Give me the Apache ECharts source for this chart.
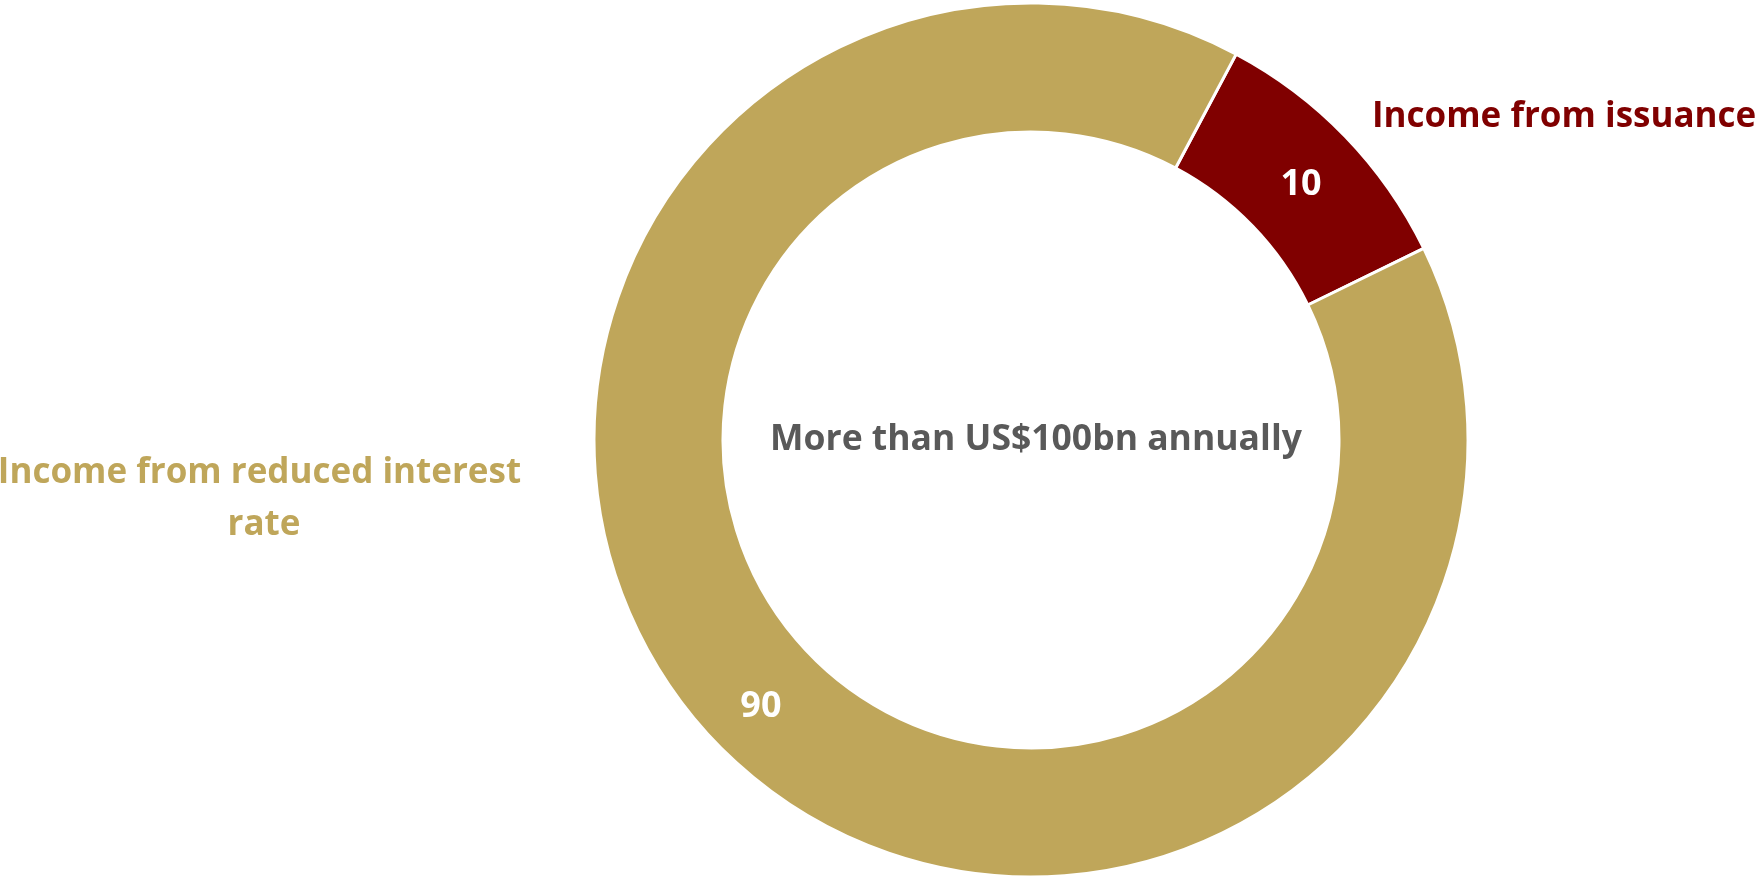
<!DOCTYPE html>
<html>
<head>
<meta charset="utf-8">
<script src="https://cdn.jsdelivr.net/npm/echarts@6/dist/echarts.min.js"></script>
<style>
html,body{margin:0;padding:0;background:#fff;}
#chart{width:1757px;height:880px;}
</style>
</head>
<body>
<div id="chart"></div>
<script>
const categories = ['Income from issuance', 'Income from reduced interest rate'];
const values = [10, 90];
const colors = ['#800000', '#BFA65A'];
const centerText = 'More than US$100bn annually';

const FONT = '"Open Sans", "Noto Sans", sans-serif';
const chart = echarts.init(document.getElementById('chart'));
const data = categories.map((c, i) => ({ name: c, value: values[i], itemStyle: { color: colors[i] } }));

// name label anchor positions (layout only)
const nameLabelPos = [
  { x: 1372, y: 117, align: 'left', verticalAlign: 'middle' },
  { x: 264, y: 499, align: 'center', verticalAlign: 'middle' }
];

chart.setOption({
  backgroundColor: '#ffffff',
  animation: false,
  title: {
    text: centerText,
    left: 1031, top: 435,
    textAlign: 'center', textVerticalAlign: 'middle',
    textStyle: { fontFamily: FONT, fontWeight: 'bold', fontSize: 35.5, color: '#595959' }
  },
  series: [
    {
      type: 'pie',
      center: [1031, 440],
      radius: [308, 437],
      startAngle: 62,
      clockwise: true,
      silent: true,
      itemStyle: { borderColor: '#ffffff', borderWidth: 3 },
      label: {
        show: true, position: 'inside',
        formatter: '{c}',
        offset: [0, 6],
        fontFamily: FONT, fontWeight: 'bold', fontSize: 36, color: '#ffffff'
      },
      labelLine: { show: false },
      data: data
    },
    {
      type: 'pie',
      center: [1031, 440],
      radius: [308, 437],
      startAngle: 62,
      clockwise: true,
      silent: true,
      itemStyle: { color: 'rgba(0,0,0,0)', borderWidth: 0 },
      label: {
        show: true, position: 'outside',
        formatter: '{b}',
        width: 560, overflow: 'break', lineHeight: 52,
        fontFamily: FONT, fontWeight: 'bold', fontSize: 35,
        color: 'inherit'
      },
      labelLine: { show: false },
      labelLayout: function (p) { return nameLabelPos[p.dataIndex]; },
      data: data.map((d, i) => ({ name: d.name, value: d.value, label: { color: colors[i] } }))
    }
  ]
});
</script>
</body>
</html>
